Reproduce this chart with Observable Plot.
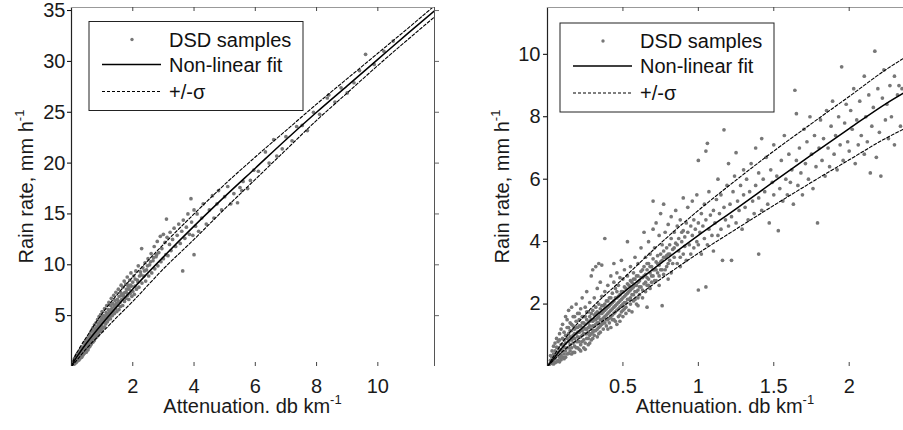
<!DOCTYPE html>
<html><head><meta charset="utf-8">
<script src="https://cdn.jsdelivr.net/npm/d3@7"></script>
<script src="https://cdn.jsdelivr.net/npm/@observablehq/plot@0.6"></script>
<style>
body{margin:0;background:#fff;}
#wrap{display:flex;width:903px;height:430px;overflow:hidden;}
</style></head><body><div id="wrap"></div>
<script>
// ---- tick labels / domains ----
const leftXTicks = [2, 4, 6, 8, 10];
const leftYTicks = [5, 10, 15, 20, 25, 30, 35];
const rightXTicks = [0.5, 1, 1.5, 2];
const rightYTicks = [2, 4, 6, 8, 10];
const leftXDomain = [0, 11.85];
const leftYDomain = [0, 35.3];
const rightXDomain = [0, 2.36];
const rightYDomain = [0, 11.5];

const legendLabels = ["DSD samples", "Non-linear fit", "+/-\u03c3"];
const xTitle = "Attenuation. db km";
const yTitle = "Rain rate, mm h";
const superscript = "-1";

// ---- fit curves (attenuation, rain rate) ----
const leftFitA = [0, 0.1, 0.25, 0.5, 1, 1.5, 2, 3, 4, 5, 6, 7, 8, 9, 10, 11, 11.9];
const leftFitR = [0, 0.59, 1.28, 2.33, 4.21, 5.96, 7.62, 10.78, 13.8, 16.7, 19.5, 22.3, 25.0, 27.6, 30.2, 32.8, 35.1];
const leftUpperR = [0, 0.9, 1.75, 2.95, 5.2, 7.1, 8.8, 12.0, 15.0, 17.9, 20.6, 23.2, 25.8, 28.3, 30.8, 33.3, 35.6];
const leftLowerR = [0, 0.35, 0.9, 1.8, 3.35, 4.9, 6.4, 9.6, 12.5, 15.5, 18.4, 21.3, 24.2, 26.9, 29.6, 32.2, 34.5];

const rightFitA = [0, 0.1, 0.25, 0.5, 0.75, 1, 1.25, 1.5, 1.75, 2, 2.25, 2.36];
const rightFitR = [0, 0.62, 1.32, 2.36, 3.3, 4.2, 5.05, 5.92, 6.78, 7.62, 8.44, 8.76];
const rightUpperR = [0, 0.78, 1.66, 2.81, 3.95, 5.0, 5.97, 6.9, 7.78, 8.65, 9.53, 9.87];
const rightLowerR = [0, 0.48, 1.04, 1.92, 2.8, 3.63, 4.4, 5.16, 5.9, 6.62, 7.33, 7.6];

// ---- DSD samples [attenuation, rain rate] ----
const leftSamples = [
[0.02,0.1],[0.03,0.3],[0.05,0.2],[0.05,0.45],[0.07,0.35],[0.08,0.6],[0.1,0.3],[0.1,0.55],[0.1,0.8],[0.12,0.5],[0.13,0.75],[0.14,0.95],[0.15,0.4],[0.15,0.65],[0.16,1.1],[0.18,0.8],[0.18,0.55],[0.2,1.0],[0.2,0.7],[0.2,1.3],[0.22,0.9],[0.23,1.15],[0.24,0.65],[0.25,1.4],[0.25,1.05],[0.26,0.85],[0.28,1.25],[0.28,1.6],[0.3,1.0],[0.3,1.4],[0.3,1.75],[0.32,1.2],[0.33,1.55],[0.34,0.95],[0.35,1.35],[0.35,1.9],[0.37,1.6],[0.38,1.15],[0.4,1.5],[0.4,1.85],[0.4,2.3],[0.42,1.3],[0.43,1.7],[0.44,2.05],[0.45,1.55],[0.46,2.5],[0.47,1.9],[0.48,1.4],[0.5,2.2],[0.5,1.75],[0.5,2.7],
[0.52,2.0],[0.53,2.45],[0.54,1.65],[0.55,2.9],[0.56,2.25],[0.57,1.9],[0.58,2.6],[0.6,3.1],[0.6,2.35],[0.6,2.0],[0.62,2.75],[0.63,3.4],[0.64,2.2],[0.65,2.9],[0.66,2.5],[0.67,3.6],[0.68,2.7],[0.7,3.1],[0.7,2.4],[0.7,3.8],[0.72,2.9],[0.73,3.4],[0.74,2.55],[0.75,4.1],[0.76,3.2],[0.78,2.8],[0.78,3.7],[0.8,3.4],[0.8,4.3],[0.82,2.9],[0.83,3.9],[0.84,3.3],[0.85,4.6],[0.86,3.6],[0.88,3.1],[0.88,4.2],[0.9,3.8],[0.9,4.9],[0.92,3.4],[0.93,4.4],[0.94,3.9],[0.95,5.1],[0.96,3.6],[0.97,4.6],[0.98,4.1],[1.0,3.5],[1.0,4.8],[1.0,5.4],
[1.02,4.3],[1.03,3.8],[1.05,5.0],[1.06,4.5],[1.08,5.7],[1.08,3.9],[1.1,4.7],[1.12,4.2],[1.13,5.3],[1.15,4.9],[1.15,6.0],[1.17,4.4],[1.19,5.2],[1.2,5.6],[1.2,4.6],[1.22,6.3],[1.24,5.0],[1.25,5.5],[1.27,4.7],[1.28,6.0],[1.3,5.3],[1.3,6.7],[1.32,5.7],[1.33,5.0],[1.35,6.2],[1.37,5.5],[1.38,7.0],[1.4,5.2],[1.4,6.0],[1.42,6.5],[1.44,5.7],[1.45,7.3],[1.47,6.2],[1.48,5.4],[1.5,6.6],
[1.52,6.0],[1.53,7.6],[1.55,5.6],[1.56,6.9],[1.58,6.3],[1.6,7.3],[1.6,5.9],[1.62,8.0],[1.64,6.6],[1.65,7.1],[1.67,6.0],[1.68,7.8],[1.7,6.9],[1.72,8.4],[1.73,6.4],[1.75,7.3],[1.77,8.1],[1.78,6.7],[1.8,7.6],[1.82,8.8],[1.83,7.0],[1.85,8.0],[1.87,6.6],[1.88,7.6],[1.9,8.5],[1.92,7.2],[1.94,9.2],[1.95,7.9],[1.97,6.9],[2.0,8.3],[2.0,7.4],
[2.03,8.9],[2.05,7.1],[2.07,7.9],[2.1,9.4],[2.12,7.6],[2.15,8.5],[2.18,9.9],[2.2,7.8],[2.22,8.9],[2.25,9.3],[2.29,11.6],[2.3,8.2],[2.33,9.7],[2.36,8.9],[2.4,10.2],[2.42,8.4],[2.45,9.5],[2.5,10.6],[2.52,8.9],[2.55,10.0],[2.6,11.1],[2.62,9.2],[2.66,10.4],[2.7,11.8],[2.72,9.6],[2.76,10.8],[2.8,12.3],[2.82,9.9],[2.85,11.2],[2.9,12.8],[2.92,10.3],[2.95,11.6],[3.0,13.0],[3.0,10.6],
[3.05,12.2],[3.08,11.0],[3.1,14.5],[3.12,12.7],[3.15,10.9],[3.2,12.0],[3.22,13.2],[3.25,11.4],[3.3,12.5],[3.35,13.6],[3.4,11.8],[3.45,12.9],[3.5,14.0],[3.55,12.1],[3.63,9.4],[3.6,13.3],[3.65,14.4],[3.7,12.6],[3.75,13.7],[3.8,15.0],[3.85,13.0],[3.9,16.5],[3.92,14.2],[3.96,12.9],[4.0,11.0],[4.0,15.4],
[4.05,13.8],[4.1,15.0],[4.15,13.3],[4.25,14.6],[4.3,16.0],[4.4,14.0],[4.5,15.4],[4.6,16.8],[4.65,14.6],[4.75,16.0],[4.8,17.3],[4.9,15.4],[5.0,16.7],[5.1,17.7],[5.2,16.0],[5.3,17.0],[5.42,16.1],[5.5,17.6],[5.56,17.3],[5.6,18.2],[5.75,17.5],[5.84,18.3],[5.95,19.3],
[6.1,19.2],[6.33,21.1],[6.45,20.0],[6.6,22.3],[6.7,20.7],[6.88,21.4],[7.0,22.6],[7.2,22.2],[7.35,23.6],[7.53,23.7],[7.7,23.2],[7.9,25.0],[8.1,24.8],[8.35,26.4],[8.4,26.7],[8.6,26.0],[8.8,27.4],[9.0,26.9],[9.22,27.9],[9.4,29.1],[9.6,30.7],[9.88,29.7],[10.2,31.0],[10.5,32.0],
[0.04,0.25],[0.06,0.3],[0.08,0.4],[0.09,0.25],[0.11,0.65],[0.12,0.35],[0.14,0.6],[0.16,0.75],[0.17,0.5],[0.19,0.9],[0.21,0.6],[0.22,1.1],[0.24,0.9],[0.26,1.2],[0.27,0.75],[0.29,1.1],[0.31,1.5],[0.32,0.9],[0.34,1.3],[0.36,1.15],[0.38,1.45],[0.39,1.7],[0.41,1.6],[0.43,1.4],[0.45,1.8],[0.47,1.6],[0.49,2.0],[0.51,1.6],[0.53,1.9],[0.55,2.1],[0.57,2.4],[0.59,2.2],[0.61,2.5],[0.63,2.3],[0.65,2.6],[0.67,2.4],[0.69,2.9],[0.71,2.6],[0.73,3.1],[0.75,2.8],[0.77,3.4],[0.79,3.0],[0.81,3.6],[0.83,3.2],[0.85,3.7],[0.87,3.4],[0.89,4.0],[0.91,3.6],[0.93,4.1],[0.95,3.8],[0.97,4.3],[0.99,3.9],[1.04,4.6],[1.09,4.3],[1.14,5.0],[1.18,4.8],[1.23,5.3],[1.29,5.6],[1.34,5.4],[1.39,5.9],[1.46,6.0],[1.54,6.4],[1.63,7.0],[1.71,7.2],[1.79,7.3],[1.86,7.9],[1.93,8.0],[2.08,8.6],[2.17,8.3],[2.27,9.0],[2.38,9.4],[2.48,9.9],[2.58,10.3],[2.68,10.7],[2.78,11.0]
];

const rightSamples = [
[0.01,0.05],[0.02,0.12],[0.02,0.2],[0.03,0.1],[0.03,0.3],[0.04,0.18],[0.04,0.4],[0.05,0.25],[0.05,0.5],[0.05,0.12],[0.06,0.35],[0.06,0.62],[0.07,0.2],[0.07,0.45],[0.07,0.8],[0.08,0.3],[0.08,0.55],[0.08,1.05],[0.09,0.38],[0.09,0.7],[0.09,0.22],[0.1,0.5],[0.1,0.9],[0.1,1.35],[0.1,0.3],
[0.11,0.62],[0.11,0.4],[0.11,1.1],[0.12,0.75],[0.12,0.5],[0.12,1.6],[0.12,0.3],[0.13,0.9],[0.13,0.6],[0.13,1.25],[0.14,0.42],[0.14,0.8],[0.14,1.05],[0.14,1.8],[0.15,0.7],[0.15,0.95],[0.15,0.5],[0.15,1.4],[0.16,0.85],[0.16,1.15],[0.16,0.6],[0.16,1.9],[0.17,0.75],[0.17,1.0],[0.17,1.3],[0.17,0.45],[0.18,0.9],[0.18,1.2],[0.18,0.65],[0.18,1.6],[0.19,1.05],[0.19,0.8],[0.19,1.45],[0.19,2.0],[0.2,0.95],[0.2,0.6],[0.2,1.25],[0.2,1.7],
[0.21,1.1],[0.21,0.8],[0.21,1.5],[0.21,0.55],[0.22,1.3],[0.22,0.95],[0.22,1.85],[0.22,0.7],[0.23,1.0],[0.23,1.4],[0.23,1.15],[0.23,2.2],[0.24,0.85],[0.24,1.25],[0.24,1.6],[0.24,0.6],[0.25,1.35],[0.25,1.05],[0.25,1.9],[0.25,0.75],[0.26,1.2],[0.26,1.5],[0.26,0.9],[0.26,2.4],[0.27,1.4],[0.27,1.1],[0.27,1.75],[0.27,0.7],[0.28,1.3],[0.28,1.0],[0.28,2.05],[0.28,1.6],[0.29,1.2],[0.29,0.85],[0.29,1.5],[0.29,2.9],[0.3,1.45],[0.3,1.1],[0.3,1.8],[0.3,3.1],
[0.31,1.3],[0.31,1.0],[0.31,2.2],[0.31,1.65],[0.32,1.5],[0.32,1.15],[0.32,1.9],[0.32,3.2],[0.33,1.4],[0.33,0.95],[0.33,1.75],[0.33,2.5],[0.34,1.6],[0.34,1.25],[0.34,2.0],[0.34,3.3],[0.35,1.5],[0.35,1.1],[0.35,1.85],[0.35,2.7],[0.36,1.7],[0.36,1.35],[0.36,2.25],[0.36,3.25],[0.37,1.55],[0.37,1.2],[0.37,1.95],[0.38,1.8],[0.38,1.4],[0.38,4.1],[0.38,2.4],[0.39,1.65],[0.39,1.3],[0.39,2.1],[0.4,1.9],[0.4,1.5],[0.4,2.6],[0.4,1.2],
[0.41,1.75],[0.41,2.2],[0.41,1.4],[0.42,2.0],[0.42,1.6],[0.42,2.9],[0.42,1.25],[0.43,1.85],[0.43,2.35],[0.43,1.5],[0.44,2.1],[0.44,1.7],[0.44,2.7],[0.44,3.3],[0.45,1.95],[0.45,1.45],[0.45,2.5],[0.46,2.2],[0.46,1.8],[0.46,1.35],[0.46,3.0],[0.47,2.05],[0.47,2.6],[0.47,1.6],[0.48,2.3],[0.48,1.9],[0.48,2.85],[0.48,1.45],[0.49,2.15],[0.49,1.75],[0.49,3.4],[0.5,2.4],[0.5,2.0],[0.5,1.6],[0.5,2.8],
[0.51,2.25],[0.51,1.85],[0.51,3.1],[0.52,2.5],[0.52,2.05],[0.52,1.7],[0.53,2.35],[0.53,4.0],[0.53,2.9],[0.54,2.6],[0.54,2.15],[0.54,1.8],[0.55,2.45],[0.55,3.2],[0.55,2.0],[0.56,2.7],[0.56,2.3],[0.56,1.75],[0.57,2.55],[0.57,3.0],[0.57,2.1],[0.58,2.8],[0.58,2.4],[0.58,3.5],[0.59,2.6],[0.59,2.0],[0.6,2.9],[0.6,2.45],[0.6,3.3],[0.6,1.95],
[0.61,2.75],[0.61,2.3],[0.62,3.05],[0.62,2.55],[0.62,3.8],[0.63,2.85],[0.63,2.2],[0.64,3.2],[0.64,2.65],[0.64,4.3],[0.65,2.95],[0.65,2.4],[0.65,3.5],[0.66,3.1],[0.66,2.6],[0.66,1.9],[0.67,3.3],[0.67,2.8],[0.67,4.0],[0.68,3.0],[0.68,2.5],[0.68,3.6],[0.69,3.2],[0.69,2.7],[0.7,3.45],[0.7,5.3],[0.7,2.9],[0.7,4.4],
[0.71,3.1],[0.71,3.8],[0.72,3.35],[0.72,2.75],[0.72,4.6],[0.73,3.55],[0.73,3.0],[0.74,3.25],[0.74,4.2],[0.74,2.6],[0.75,3.6],[0.75,3.1],[0.75,4.9],[0.76,3.4],[0.76,1.95],[0.76,3.9],[0.77,5.2],[0.77,3.7],[0.77,2.95],[0.78,3.5],[0.78,4.3],[0.79,3.8],[0.79,3.2],[0.8,3.6],[0.8,4.55],[0.8,2.8],
[0.81,3.9],[0.81,3.4],[0.82,4.1],[0.82,3.0],[0.82,4.8],[0.83,3.75],[0.84,4.3],[0.84,3.5],[0.85,3.95],[0.85,5.0],[0.86,3.3],[0.86,4.5],[0.87,4.1],[0.87,3.7],[0.88,4.7],[0.88,3.2],[0.89,4.0],[0.9,4.35],[0.9,3.6],[0.9,5.4],
[0.91,4.15],[0.91,3.85],[0.92,4.6],[0.92,3.4],[0.93,4.3],[0.93,5.1],[0.94,3.9],[0.95,4.5],[0.95,3.6],[0.96,4.2],[0.96,5.3],[0.97,4.7],[0.97,3.8],[0.98,4.4],[0.99,4.0],[0.99,5.5],[1.0,4.6],[1.0,6.6],[1.0,2.45],[1.0,3.9],
[1.01,4.3],[1.02,4.9],[1.02,3.6],[1.03,4.5],[1.04,5.2],[1.04,4.1],[1.05,6.9],[1.05,2.55],[1.05,4.7],[1.06,7.15],[1.06,3.9],[1.07,4.4],[1.07,5.6],[1.08,4.85],[1.09,4.2],[1.1,5.0],[1.1,3.7],
[1.11,4.6],[1.12,5.35],[1.13,4.2],[1.13,6.0],[1.14,4.9],[1.15,4.4],[1.15,5.5],[1.16,3.4],[1.17,7.58],[1.17,5.1],[1.18,4.7],[1.19,5.8],[1.2,4.5],[1.2,6.5],
[1.21,5.2],[1.22,3.4],[1.22,4.8],[1.23,5.6],[1.24,6.1],[1.25,4.6],[1.25,6.85],[1.26,5.3],[1.27,5.0],[1.28,5.8],[1.29,4.4],[1.3,5.5],[1.3,6.3],
[1.31,5.1],[1.32,6.0],[1.33,4.7],[1.34,5.6],[1.35,6.5],[1.36,5.3],[1.37,4.9],[1.38,7.0],[1.38,5.8],[1.4,3.6],[1.4,5.4],[1.4,6.2],
[1.42,7.3],[1.42,5.0],[1.43,6.0],[1.44,5.6],[1.45,6.7],[1.46,5.2],[1.47,4.6],[1.48,6.3],[1.49,5.9],[1.5,7.1],[1.5,5.5],
[1.52,6.1],[1.53,4.35],[1.54,5.7],[1.55,6.6],[1.56,5.3],[1.57,7.4],[1.58,6.0],[1.59,5.5],[1.6,6.8],
[1.61,5.9],[1.62,6.3],[1.63,5.2],[1.64,8.85],[1.65,6.6],[1.65,8.1],[1.66,5.8],[1.67,7.0],[1.68,6.2],[1.69,5.5],[1.7,7.6],
[1.71,6.5],[1.72,7.2],[1.73,6.0],[1.74,8.0],[1.75,6.8],[1.76,5.7],[1.77,7.4],[1.78,6.4],[1.79,4.6],[1.8,7.0],
[1.81,7.9],[1.82,6.6],[1.83,7.3],[1.84,6.1],[1.85,8.2],[1.86,7.0],[1.87,6.4],[1.88,7.7],[1.89,8.5],[1.9,6.8],
[1.91,7.4],[1.92,6.3],[1.93,8.0],[1.94,7.1],[1.95,9.6],[1.96,6.6],[1.97,7.8],[1.98,8.4],[1.99,7.2],[2.0,6.9],
[2.01,8.2],[2.02,7.6],[2.03,8.9],[2.04,6.5],[2.05,7.9],[2.06,7.1],[2.07,8.5],[2.08,7.4],[2.1,6.8],[2.1,9.3],
[2.11,8.0],[2.12,7.2],[2.13,8.7],[2.14,6.2],[2.15,7.7],[2.16,8.3],[2.17,10.1],[2.18,6.7],[2.19,8.9],[2.2,7.5],
[2.21,6.1],[2.22,8.6],[2.23,9.5],[2.24,7.9],[2.25,8.4],[2.26,7.3],[2.27,9.0],[2.28,8.0],[2.3,9.3],[2.3,7.1],[2.32,8.7],[2.33,9.0],[2.34,7.7],[2.35,8.9],
[0.02,0.35],[0.03,0.5],[0.04,0.65],[0.04,0.08],[0.05,0.75],[0.06,0.15],[0.06,0.9],[0.07,0.6],[0.08,0.15],[0.08,0.85],[0.09,0.5],[0.09,1.2],[0.1,0.7],[0.11,0.25],[0.11,0.85],[0.12,1.0],[0.13,0.4],[0.13,1.5],[0.14,0.6],[0.14,1.25],[0.15,1.15],[0.16,0.4],[0.16,1.35],[0.17,0.9],[0.17,1.6],[0.18,0.45],[0.18,1.05],[0.19,0.6],[0.19,1.25],[0.2,0.8],[0.2,1.1],[0.21,1.3],[0.21,1.7],[0.22,0.5],[0.22,1.15],[0.23,0.8],[0.23,1.6],[0.24,1.05],[0.24,1.4],[0.25,0.55],[0.25,1.2],[0.25,1.6],[0.26,1.05],[0.26,1.75],[0.27,0.9],[0.27,1.25],[0.28,0.75],[0.28,1.45],[0.29,1.05],[0.29,1.7],[0.3,0.9],[0.3,1.3],
[0.31,1.5],[0.31,1.15],[0.32,1.35],[0.32,1.7],[0.33,1.2],[0.33,1.55],[0.34,1.4],[0.34,1.05],[0.35,1.7],[0.35,1.3],[0.36,1.5],[0.36,1.95],[0.37,1.4],[0.37,1.75],[0.38,1.6],[0.38,2.0],[0.39,1.5],[0.39,1.85],[0.4,1.7],[0.4,2.1],[0.41,1.55],[0.41,1.95],[0.42,1.8],[0.42,2.2],[0.43,1.65],[0.43,2.05],[0.44,1.9],[0.44,1.5],[0.45,2.2],[0.45,1.75],[0.46,2.0],[0.46,2.4],[0.47,1.85],[0.47,2.25],[0.48,2.1],[0.48,1.65],[0.49,1.95],[0.49,2.4],[0.5,2.2],[0.5,1.8],[0.51,2.05],[0.51,2.55],[0.52,2.3],[0.52,1.9],[0.53,2.15],[0.53,2.65],[0.54,2.4],[0.55,2.2],[0.55,2.75],[0.56,2.5],[0.57,2.3],[0.57,2.8],[0.58,2.6],[0.58,2.15],[0.59,2.4],[0.59,2.9],[0.6,2.7],[0.6,2.2],
[0.61,2.55],[0.62,2.85],[0.63,2.45],[0.63,3.1],[0.64,2.9],[0.65,2.7],[0.66,2.85],[0.66,3.3],[0.67,2.6],[0.68,3.2],[0.69,2.9],[0.7,3.1],[0.71,2.75],[0.72,3.1],[0.73,3.3],[0.74,2.9],[0.75,3.35],[0.76,3.1],[0.77,3.5],[0.78,3.1],[0.79,3.55],[0.8,3.3],[0.81,3.6],[0.83,3.3],[0.84,3.8],[0.86,3.9],[0.88,3.5],[0.89,4.3]
];

const FONT = "'Liberation Sans', Arial, sans-serif";
const H = 430, MT = 7, MB = 64, PH = H - MT - MB;
const DOT = "#777777";

function curve(A, R) { return A.map((a, i) => ({a, r: R[i]})); }

function panel(o) {
  const marks = [
    Plot.dot(o.samples, {x: d => d[0], y: d => d[1], r: 1.85, fill: DOT, clip: true}),
    Plot.line(curve(o.fitA, o.upper), {x: "a", y: "r", stroke: "#000", strokeWidth: 1.1, strokeDasharray: "3,2", curve: "monotone-x", clip: true}),
    Plot.line(curve(o.fitA, o.lower), {x: "a", y: "r", stroke: "#000", strokeWidth: 1.1, strokeDasharray: "3,2", curve: "monotone-x", clip: true}),
    Plot.line(curve(o.fitA, o.fit), {x: "a", y: "r", stroke: "#000", strokeWidth: 1.5, curve: "monotone-x", clip: true}),
    Plot.ruleX([o.xDomain[0]], {stroke: "#222", strokeWidth: 1.2}),
    Plot.ruleY([o.yDomain[1]], {stroke: "#999"}),
    Plot.tickX(o.xTicks, {x: d => d, insetTop: PH - 4, stroke: "#444"}),
    Plot.tickX(o.xTicks, {x: d => d, insetBottom: PH - 4, stroke: "#444"}),
    Plot.axisY({ticks: o.yTicks, anchor: "left", tickSize: 4, tickPadding: o.yPad, label: null, fill: "#1a1a1a", tickFormat: d => String(d)}),
    Plot.axisX({ticks: o.xTicks, anchor: "bottom", tickSize: 0, tickPadding: 12, label: null, fill: "#1a1a1a", tickFormat: d => String(d)})
  ];
  if (o.rightBorder) {
    marks.push(Plot.ruleX([o.xDomain[1]], {stroke: "#555"}));
    marks.push(Plot.axisY({ticks: o.yTicks, anchor: "right", tickSize: 4, tickFormat: () => "", label: null, stroke: "#666"}));
  }
  const svg = Plot.plot({
    width: o.width, height: H,
    marginLeft: o.ml, marginRight: o.mr, marginTop: MT, marginBottom: MB,
    x: {domain: o.xDomain}, y: {domain: o.yDomain},
    style: {fontSize: "20px", fontFamily: FONT, background: "#fff", overflow: "visible"},
    marks
  });
  const s = d3.select(svg);
  const cx = o.ml + (o.width - o.ml - o.mr) / 2;
  const xt = s.append("text").attr("x", cx).attr("y", 413).attr("text-anchor", "middle")
    .attr("font-size", 20).attr("font-family", FONT).attr("fill", "#1a1a1a").text(xTitle);
  xt.append("tspan").attr("dy", -9).attr("font-size", 13).text(superscript);
  const yt = s.append("text").attr("transform", `translate(${o.yTitleX},${MT + PH / 2}) rotate(-90)`)
    .attr("text-anchor", "middle").attr("font-size", 20).attr("font-family", FONT).attr("fill", "#1a1a1a").text(yTitle);
  yt.append("tspan").attr("dy", -9).attr("font-size", 13).text(superscript);
  const g = s.append("g").attr("transform", `translate(${o.lx},${o.ly})`).attr("font-family", FONT).attr("font-size", 20).attr("fill", "#111");
  g.append("rect").attr("x", 0).attr("y", 0).attr("width", 214).attr("height", 89).attr("fill", "#fff").attr("stroke", "#222").attr("stroke-width", 1);
  g.append("circle").attr("cx", 43).attr("cy", 18).attr("r", 1.7).attr("fill", DOT);
  g.append("line").attr("x1", 13).attr("x2", 72).attr("y1", 43).attr("y2", 43).attr("stroke", "#000").attr("stroke-width", 1.5);
  g.append("line").attr("x1", 13).attr("x2", 72).attr("y1", 70).attr("y2", 70).attr("stroke", "#000").attr("stroke-width", 1.1).attr("stroke-dasharray", "3,2");
  [18, 43, 70].forEach((y, i) => g.append("text").attr("x", 80).attr("y", y).attr("dy", "0.35em").attr("text-anchor", "start").text(legendLabels[i]));
  return svg;
}

const wrap = document.getElementById("wrap");
wrap.appendChild(panel({
  width: 450, ml: 71, mr: 16, xDomain: leftXDomain, yDomain: leftYDomain,
  xTicks: leftXTicks, yTicks: leftYTicks, samples: leftSamples,
  fitA: leftFitA, fit: leftFitR, upper: leftUpperR, lower: leftLowerR,
  rightBorder: true, yPad: 2, yTitleX: 33, lx: 89, ly: 21.5
}));
wrap.appendChild(panel({
  width: 453, ml: 97, mr: 0, xDomain: rightXDomain, yDomain: rightYDomain,
  xTicks: rightXTicks, yTicks: rightYTicks, samples: rightSamples,
  fitA: rightFitA, fit: rightFitR, upper: rightUpperR, lower: rightLowerR,
  rightBorder: false, yPad: 3, yTitleX: 59, lx: 110, ly: 23
}));
</script></body></html>
